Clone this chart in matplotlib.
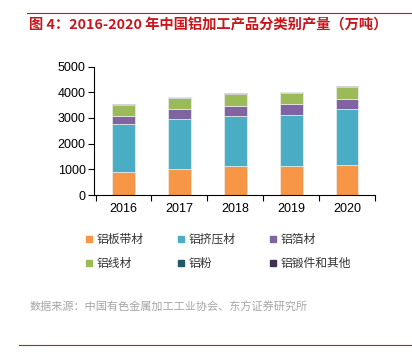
import numpy as np
from matplotlib import pyplot as plt
from matplotlib.lines import Line2D

plt.rcParams['font.family'] = ['Noto Sans CJK SC', 'DejaVu Sans']

## data (万吨)
years = ['2016', '2017', '2018', '2019', '2020']
names = ['铝板带材', '铝挤压材', '铝箔材', '铝线材', '铝粉', '铝锻件和其他']
plate = [900, 1018, 1123, 1136, 1188]
extrusion = [1855, 1959, 1971, 1997, 2141]
foil = [313, 365, 379, 405, 418]
wire = [431, 444, 457, 444, 444]
powder = [18, 18, 19, 19, 19]
forging = [22, 22, 20, 20, 20]
colors = ['#F79646', '#4BACC6', '#8064A2', '#9BBB59', '#215968', '#403152']

series = [plate, extrusion, foil, wire, powder, forging]

fig = plt.figure(figsize=(4.12, 3.54), dpi=100)
ax = fig.add_axes([0.228, 0.449, 0.682, 0.363])

x = np.arange(len(years))
bottom = np.zeros(len(years))
for vals, c in zip(series, colors):
    ax.bar(x, vals, 0.41, bottom=bottom, color=c, edgecolor='#eeeeee', linewidth=0.5)
    bottom = bottom + np.array(vals)

ax.set_ylim(0, 5000)
ax.set_yticks(range(0, 5001, 1000))
ax.set_xlim(-0.53, 4.48)
ax.set_xticks(x)
ax.set_xticklabels(years)
ax.set_xticks(np.arange(-0.5, 5, 1), minor=True)
ax.tick_params(axis='x', which='major', length=0, labelsize=9, pad=6)
ax.tick_params(axis='x', which='minor', length=4, width=0.8, direction='out')
ax.tick_params(axis='y', length=4, width=0.8, labelsize=9, pad=2)
for s in ['top', 'right']:
    ax.spines[s].set_visible(False)
for s in ['left', 'bottom']:
    ax.spines[s].set_linewidth(0.8)
for lab in ax.get_xticklabels() + ax.get_yticklabels():
    lab.set_family(['Liberation Sans', 'DejaVu Sans'])

## legend, placed row by row
handles = [Line2D([], [], marker='s', linestyle='none', markersize=5,
                  markerfacecolor=c, markeredgecolor=c) for c in colors]
order = [0, 3, 1, 4, 2, 5]
fig.legend([handles[i] for i in order], [names[i] for i in order], ncol=3,
           loc='upper left', bbox_to_anchor=(0.177, 0.372), frameon=False,
           fontsize=8.5, handletextpad=0.1, columnspacing=2.7, labelspacing=0.95,
           handlelength=1.0, labelcolor='#333333')

## title, source and rules
fig.text(0.07, 0.928, '图 4：2016-2020 年中国铝加工产品分类别产量（万吨）',
         color='#C8161D', fontsize=10.3, fontweight='bold', va='center')
fig.text(0.073, 0.132, '数据来源：中国有色金属加工工业协会、东方证券研究所',
         color='#A6A6A6', fontsize=8, va='center')
fig.add_artist(Line2D([0.066, 1.0], [0.962, 0.962], color='#C8161D', linewidth=0.8))
fig.add_artist(Line2D([0.046, 1.0], [0.025, 0.025], color='#C8161D', linewidth=0.8))

fig.savefig('out.png', dpi=100)
